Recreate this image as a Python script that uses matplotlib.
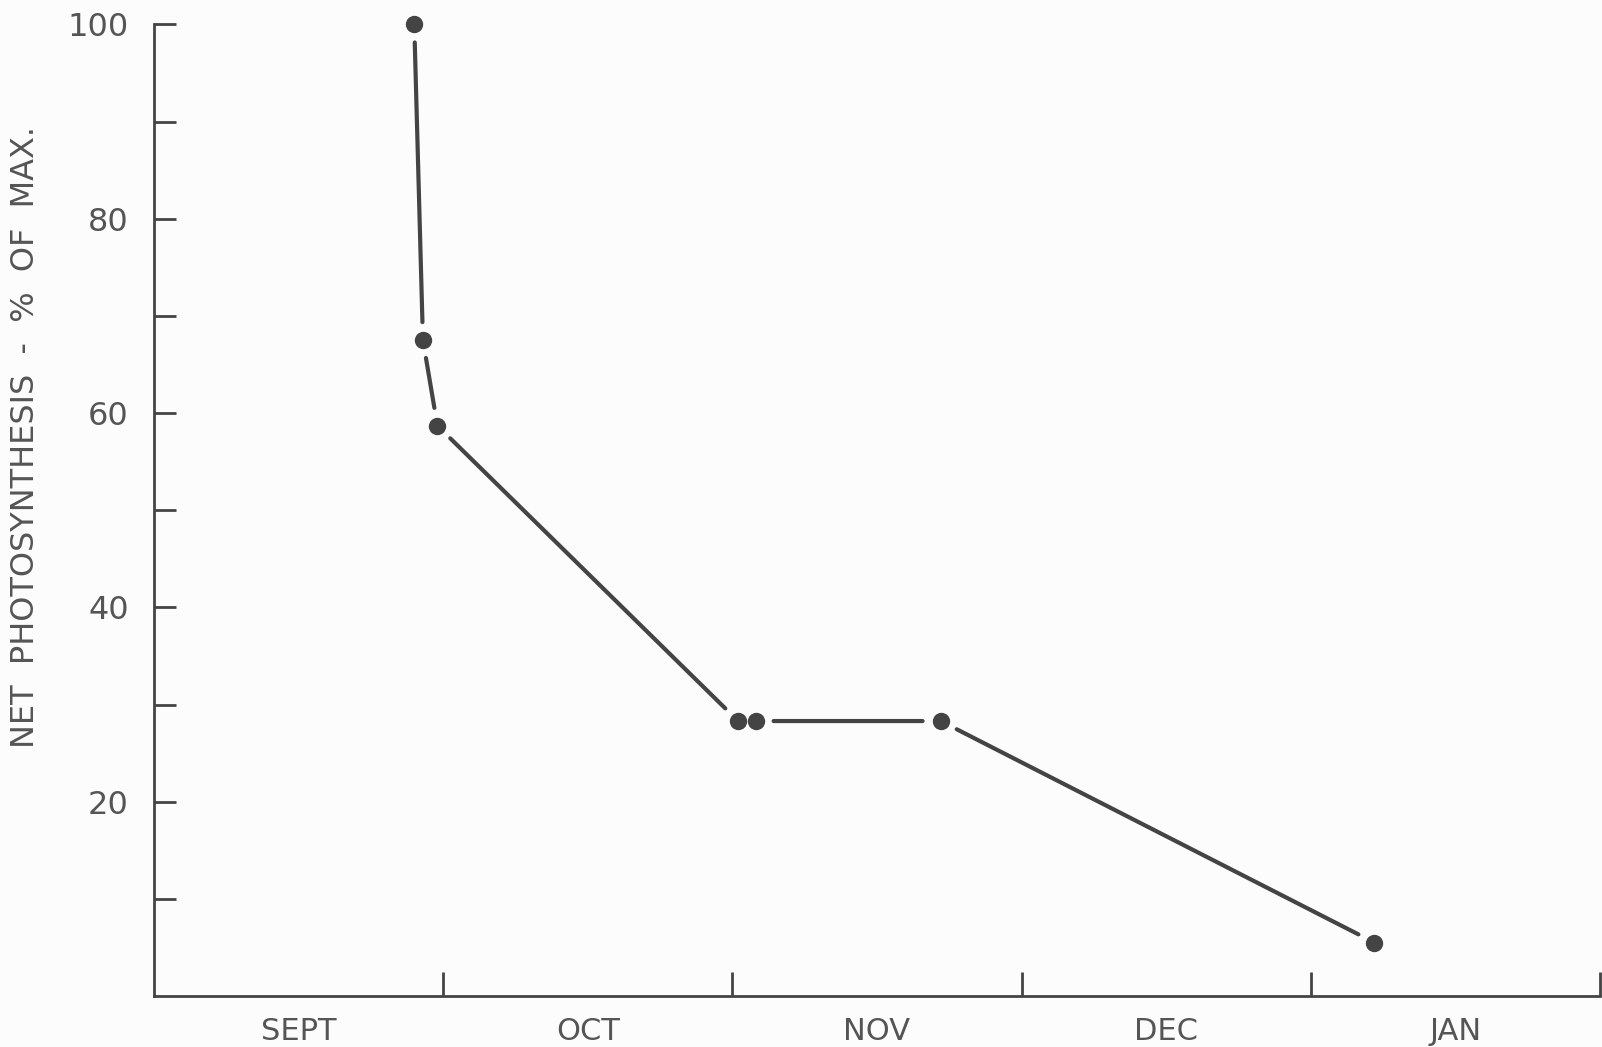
#!/usr/bin/env python
"""Net photosynthesis decline, Sept to Jan (redrawn)."""

import matplotlib
matplotlib.use("Agg")
import matplotlib.pyplot as plt

# x is in month units: 0 = start of Sept, 1 = start of Oct, ... 5 = end of Jan
months = ["SEPT", "OCT", "NOV", "DEC", "JAN"]
time_months = [0.90, 0.93, 0.98, 2.02, 2.08, 2.72, 4.22]
net_photo_pct = [100.0, 67.5, 58.7, 28.3, 28.3, 28.3, 5.5]
ytick_major = [20, 40, 60, 80, 100]
ytick_minor = [10, 30, 50, 70, 90]

INK = "#444444"
TEXT = "#555555"
BG = "#fcfcfc"

fig = plt.figure(figsize=(16.02, 10.47), dpi=100, facecolor=BG)
ax = fig.add_axes([0.0961, 0.0487, 0.9027, 0.928], facecolor=BG)

ax.set_xlim(0, 5)
ax.set_ylim(0, 100)

# line segments stop short of the dots, as in the original drawing
for i in range(len(time_months) - 1):
    if abs(time_months[i + 1] - time_months[i]) < 0.1 and net_photo_pct[i] == net_photo_pct[i + 1]:
        continue  # dots touching, no connector
    ax.annotate(
        "",
        xy=(time_months[i + 1], net_photo_pct[i + 1]),
        xytext=(time_months[i], net_photo_pct[i]),
        arrowprops=dict(arrowstyle="-", shrinkA=13, shrinkB=13, lw=3.0, color=INK),
    )
ax.plot(time_months, net_photo_pct, "o", ms=11.5, color=INK, mec=INK, clip_on=False, zorder=3)

for side in ("top", "right"):
    ax.spines[side].set_visible(False)
for side in ("left", "bottom"):
    ax.spines[side].set_color(INK)
    ax.spines[side].set_linewidth(2.0)

# y ticks: labelled every 20, plain tick every 10
ax.set_yticks(ytick_major)
ax.set_yticklabels([str(v) for v in ytick_major])
ax.set_yticks(ytick_minor, minor=True)
ax.tick_params(axis="y", which="both", direction="in", length=16, width=2.0,
               color=INK, labelsize=23, labelcolor=TEXT, pad=18)

# x: boundary ticks between months, month names centred in between
ax.set_xticks([1, 2, 3, 4, 5])
ax.set_xticklabels([])
ax.set_xticks([m + 0.5 for m in range(len(months))], minor=True)
ax.set_xticklabels(months, minor=True)
ax.tick_params(axis="x", which="major", direction="in", length=17, width=2.0, color=INK)
ax.tick_params(axis="x", which="minor", length=0, labelsize=22, labelcolor=TEXT, pad=15)

ax.set_ylabel("NET  PHOTOSYNTHESIS  -  %  OF  MAX.", fontsize=23, color=TEXT)
ax.yaxis.set_label_coords(-0.078, 0.575)

fig.savefig("out.png", dpi=100, facecolor=BG)
